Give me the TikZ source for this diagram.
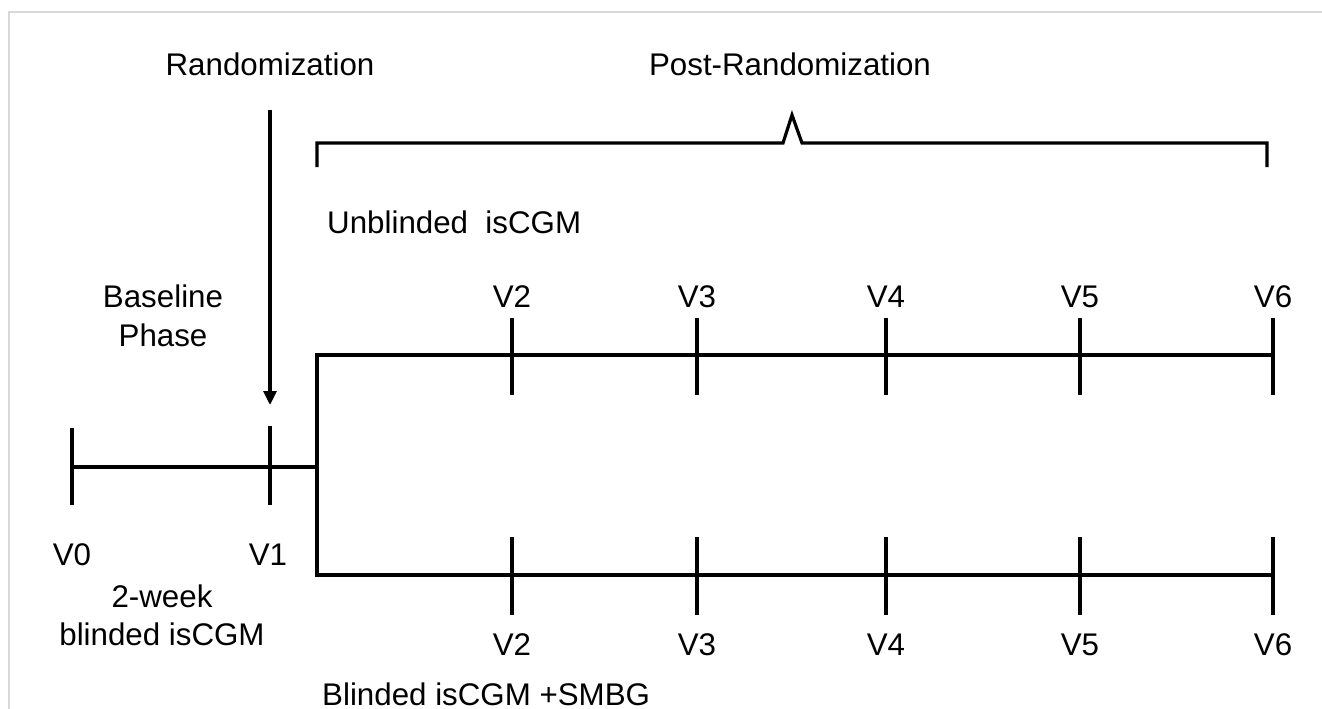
\documentclass[tikz,border=0pt]{standalone}
\usepackage{fontspec}
\setmainfont{Liberation Sans}
\usetikzlibrary{arrows.meta}
\begin{document}
\begin{tikzpicture}[x=1pt,y=-1pt,
  ln/.style={line width=3.2pt,black},
  frameline/.style={line width=1.6pt,black!15},
  lbl/.style={font=\fontsize{31.3}{38}\selectfont,inner sep=0pt,anchor=base},
  lbll/.style={lbl,anchor=base west}]
\useasboundingbox (0,0) rectangle (1322,709);
% frame
\coordinate (f1) at (9,709);
\coordinate (f2) at (9,12);
\coordinate (f3) at (1322,12);
\draw[frameline] (f1) -- (f2) -- (f3);
% texts
\node[lbl] (rand) at (270,75) {Randomization};
\node[lbl] (post) at (790,75) {Post-Randomization};
\node[lbll] (unb) at (327,233) {Unblinded\ \ isCGM};
\node[lbl] (bp1) at (163,307) {Baseline};
\node[lbl] (bp2) at (163,346) {Phase};
\node[lbl] (v0) at (72,565) {V0};
\node[lbl] (v1) at (268,565) {V1};
\node[lbl] (wk1) at (162,607) {2-week};
\node[lbl] (wk2) at (162,645) {blinded isCGM};
\node[lbll] (bl) at (322,705) {Blinded isCGM +SMBG};
% randomization arrow
\coordinate (arT) at (270,110);
\coordinate (arB) at (270,405);
\draw[ln,-{Triangle[width=13pt,length=14pt]}] (arT) -- (arB);
% brace
\coordinate (b1) at (317,167);
\coordinate (b2) at (317,143);
\coordinate (b3) at (783,143);
\coordinate (b4) at (792,115);
\coordinate (b5) at (802,143);
\coordinate (b6) at (1267,143);
\coordinate (b7) at (1267,167);
\draw[ln,miter limit=10] (b1) -- (b2) -- (b3) -- (b4) -- (b5) -- (b6) -- (b7);
% baseline phase
\coordinate (t0a) at (72,428); \coordinate (t0b) at (72,505);
\coordinate (t1a) at (270,426); \coordinate (t1b) at (270,505);
\coordinate (h0) at (72,467); \coordinate (h1) at (317,467);
\draw[ln] (t0a) -- (t0b);
\draw[ln] (t1a) -- (t1b);
\draw[ln] (h0) -- (h1);
% split
\coordinate (su) at (317,355);
\coordinate (sl) at (317,575);
\coordinate (eu) at (1273,355);
\coordinate (el) at (1273,575);
\draw[ln] (eu) -- (su) -- (sl) -- (el);
% ticks and labels
\foreach \x/\n in {512/2,697/3,886/4,1080/5,1273/6}{
  \coordinate (ua\n) at (\x,318); \coordinate (ub\n) at (\x,395);
  \coordinate (la\n) at (\x,537); \coordinate (lb\n) at (\x,615);
  \draw[ln] (ua\n) -- (ub\n);
  \draw[ln] (la\n) -- (lb\n);
  \node[lbl] (uv\n) at (\x,307) {V\n};
  \node[lbl] (lv\n) at (\x,655) {V\n};
}
\end{tikzpicture}
\end{document}
